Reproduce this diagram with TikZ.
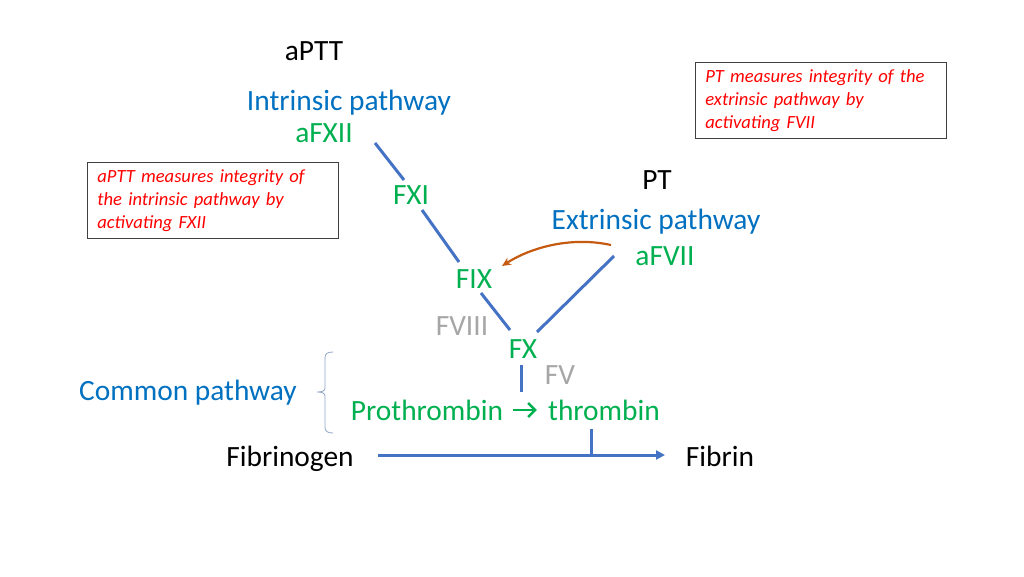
\documentclass[tikz,border=0pt]{standalone}
\usepackage{fontspec}
\setmainfont{Carlito}
\usetikzlibrary{arrows.meta}
\definecolor{cblue}{HTML}{0070C0}
\definecolor{cgreen}{HTML}{00B050}
\definecolor{cgray}{HTML}{A6A6A6}
\definecolor{lblue}{HTML}{4472C4}
\definecolor{corange}{HTML}{C55A11}
\definecolor{cred}{HTML}{FF0000}
\definecolor{bracec}{HTML}{8FA3C8}
\begin{document}
\begin{tikzpicture}[x=1pt,y=-1pt,
  lab/.style={inner sep=0pt,anchor=base,font=\fontsize{29.4}{35}\selectfont},
  title/.style={lab,text=black},
  path/.style={lab,text=cblue},
  fac/.style={lab,text=cgreen},
  cof/.style={lab,text=cgray},
  link/.style={draw=lblue,line width=3pt},
  note/.style={draw=black!75,line width=0.8pt,anchor=north west,minimum width=251pt,minimum height=76pt,
    text width=231pt,inner xsep=10pt,inner ysep=0pt,align=left,text=cred,
    font=\fontsize{18.6}{23}\selectfont\itshape}]
\useasboundingbox (0,0) rectangle (1024,576);
% labels
\node[title] (aptt) at (314,60) {aPTT};
\node[path] (intr) at (349,110) {Intrinsic pathway};
\node[fac] (afxii) at (324,142) {aFXII};
\node[fac] (fxi) at (411,204) {FXI};
\node[fac] (fix) at (474,288) {FIX};
\node[cof] (fviii) at (462,335) {FVIII};
\node[fac] (fx) at (523,358) {FX};
\node[cof] (fv) at (560,384) {FV};
\node[title] (pt) at (657,189) {PT};
\node[path] (extr) at (656,229) {Extrinsic pathway};
\node[fac] (afvii) at (665,265) {aFVII};
\node[fac] (proth) at (427,420) {Prothrombin};
\node[fac] (thromb) at (604,420) {thrombin};
\node[path] (common) at (188,400) {Common pathway};
\node[title] (fibg) at (290,466) {Fibrinogen};
\node[title] (fib) at (720,466) {Fibrin};
% notes
\node[note] (n1) at (87,162) {aPTT measures integrity of\\ the intrinsic pathway by\\ activating FXII};
\node[note] (n2) at (695,62) {PT measures integrity of the\\ extrinsic pathway by\\ activating FVII};
% connector end points
\coordinate (a1) at (375,143); \coordinate (a2) at (404,180);
\coordinate (b1) at (422,210); \coordinate (b2) at (459,262);
\coordinate (c1) at (481,293); \coordinate (c2) at (510,330);
\coordinate (d1) at (614,256); \coordinate (d2) at (537,332);
\coordinate (e1) at (521,365); \coordinate (e2) at (521,392);
\coordinate (f1) at (378,455); \coordinate (f2) at (665,455);
\coordinate (g1) at (591,429); \coordinate (g2) at (591,455);
\coordinate (o1) at (611,245); \coordinate (o2) at (502,266);
\draw[link] (a1) -- (a2);
\draw[link] (b1) -- (b2);
\draw[link] (c1) -- (c2);
\draw[link] (d1) -- (d2);
\draw[link] (e1) -- (e2);
\draw[link,-{Triangle[length=9pt,width=9pt]}] (f1) -- (f2);
\draw[link] (g1) -- (g2);
\draw[draw=corange,line width=2.2pt,-{Stealth[length=9pt,width=8pt]}] (o1) .. controls (570,236) and (530,248) .. (o2);
% prothrombin -> thrombin
\draw[draw=cgreen,line width=2.6pt,-{Straight Barb[length=7pt,width=14pt]}] ([xshift=10pt,yshift=10pt]proth.base east) -- ([xshift=-11pt,yshift=10pt]thromb.base west);
% brace
\draw[draw=bracec,line width=0.8pt] (333,352) .. controls (327,352) and (325,354) .. (325,358) -- (325,388) .. controls (325,391) and (322,392) .. (317,392) .. controls (322,392) and (325,393) .. (325,396) -- (325,427) .. controls (325,431) and (327,433) .. (333,433);
\end{tikzpicture}
\end{document}
